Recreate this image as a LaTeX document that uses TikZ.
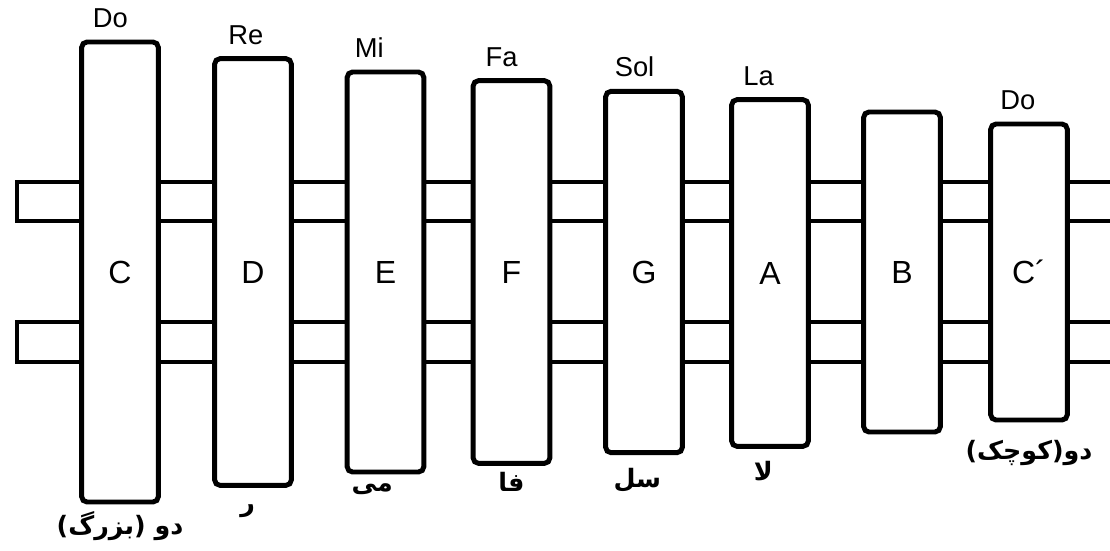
\documentclass[tikz,border=0pt]{standalone}
\usepackage{fontspec}
\setmainfont{Liberation Sans}
\newfontfamily\arabicfont[Script=Arabic]{DejaVu Sans}
\TeXXeTstate=1
\usetikzlibrary{positioning}

\begin{document}
\begin{tikzpicture}[x=0.75pt, y=-0.75pt, line width=3.7pt,
    bar/.style={draw, fill=white, rounded corners=4pt, minimum width=57.5pt, inner sep=0pt, outer sep=0pt, font=\fontsize{24}{28}\selectfont},
    note/.style={inner sep=0pt, anchor=base west, font=\fontsize{20.5}{24}\selectfont},
    farsi/.style={inner sep=0pt, font=\arabicfont\bfseries\fontsize{19}{22}\selectfont}]
    \useasboundingbox (0,0) rectangle (1110,550);

    \coordinate (U1) at (1110, 182);
    \coordinate (U2) at (17, 182);
    \coordinate (U3) at (17, 221);
    \coordinate (U4) at (1110, 221);
    \coordinate (L1) at (1110, 322);
    \coordinate (L2) at (17, 322);
    \coordinate (L3) at (17, 362);
    \coordinate (L4) at (1110, 362);

    \draw (U1) -- (U2) -- (U3) -- (U4); % upper rail
    \draw (L1) -- (L2) -- (L3) -- (L4); % lower rail

    % bars, longest to shortest
    \node[bar, minimum height=345pt] (barC) at (120, 272) {C};
    \node[bar, minimum height=320pt] (barD) at (253, 272) {D};
    \node[bar, minimum height=300pt] (barE) at (385.5, 272) {E};
    \node[bar, minimum height=287pt] (barF) at (511.5, 272) {F};
    \node[bar, minimum height=271pt] (barG) at (644, 272) {G};
    \node[bar, minimum height=260pt] (barA) at (770, 273) {A};
    \node[bar, minimum height=240pt] (barB) at (902, 272) {B};
    \node[bar, minimum height=222pt] (barCc) at (1029, 272) {C´};

    % names above
    \node[note] (doC) at ([xshift=6.5pt, yshift=11pt]barC.north west) {Do};
    \node[note] (reD) at ([xshift=8.5pt, yshift=11pt]barD.north west) {Re};
    \node[note] (miE) at ([xshift=4pt, yshift=11pt]barE.north west) {Mi};
    \node[note] (faF) at ([xshift=7.5pt, yshift=11pt]barF.north west) {Fa};
    \node[note] (solG) at ([xshift=5pt, yshift=11pt]barG.north west) {Sol};
    \node[note] (laA) at ([xshift=7pt, yshift=11pt]barA.north west) {La};
    \node[note] (doCc) at ([xshift=5.5pt, yshift=11pt]barCc.north west) {Do};

    % persian names below
    \node[farsi, below=5pt of barC] (pC) {\beginR دو (بزرگ)\endR};
    \node[farsi, below=13pt of barD, xshift=-4pt] (pD) {\beginR ر\endR};
    \node[farsi, below=7pt of barE, xshift=-10pt] (pE) {\beginR می\endR};
    \node[farsi, below=5pt of barF] (pF) {\beginR فا\endR};
    \node[farsi, below=10pt of barG, xshift=-5pt] (pG) {\beginR سل\endR};
    \node[farsi, below=9pt of barA, xshift=-5pt] (pA) {\beginR لا\endR};
    \node[farsi, below=13pt of barCc] (pCc) {\beginR دو(کوچک)\endR};
\end{tikzpicture}
\end{document}
